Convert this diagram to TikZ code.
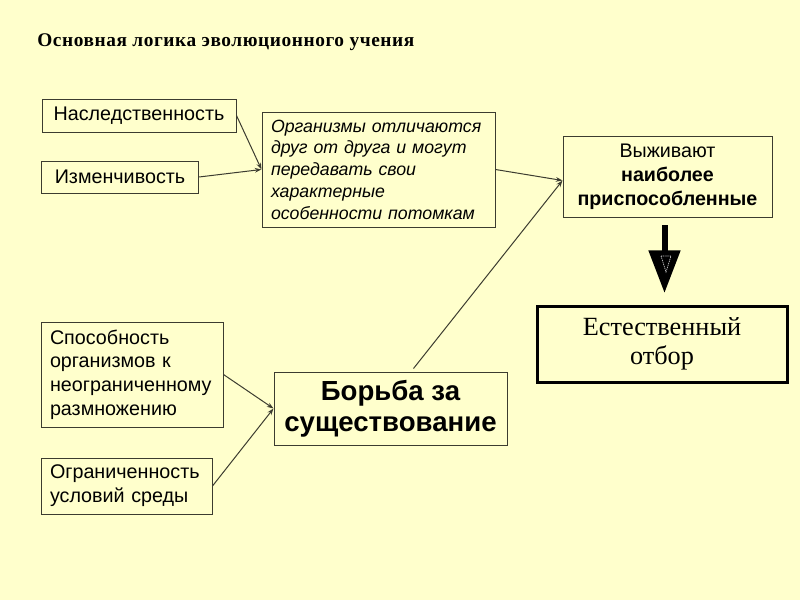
\documentclass[tikz,border=0pt]{standalone}
\usepackage{fontspec}
\setmainfont{Liberation Serif}
\setsansfont{Liberation Sans}
\usetikzlibrary{arrows.meta,calc}
\newdimen\pxu \pxu=0.75pt
\definecolor{bg}{HTML}{FFFFCC}
\definecolor{edge}{HTML}{3C3C30}
\begin{document}
\begin{tikzpicture}[x=0.75pt,y=-0.75pt,
  box/.style={draw=edge, line width=0.75pt, rectangle, inner sep=0pt},
  sans/.style={font=\sffamily\fontsize{14.8pt}{17.8pt}\selectfont},
  conn/.style={draw=edge, line width=0.75pt, -{Stealth[length=5pt,width=3.5pt]}},
]
\fill[bg] (0,0) rectangle (800,600);
\useasboundingbox (0,0) rectangle (800,600);

\node[anchor=base west, inner sep=0pt, font=\bfseries\fontsize{14.5pt}{17pt}\selectfont\addfontfeature{LetterSpace=3}] (title) at (37,46) {Основная логика эволюционного учения};

\node[box, sans, minimum width=194\pxu, minimum height=33\pxu] (n1) at (139,115.5) {Наследственность};
\node[box, sans, minimum width=157\pxu, minimum height=32\pxu] (n2) at (120,177) {Изменчивость};

\node[box, font=\sffamily\itshape\fontsize{13.3pt}{16.35pt}\selectfont, text width=215\pxu, inner xsep=9\pxu, align=left, minimum height=115\pxu] (org) at (378.5,169.5)
  {Организмы отличаются\\друг от друга и могут\\передавать свои\\характерные\\особенности потомкам};

\node[box, font=\sffamily\fontsize{14.75pt}{17.9pt}\selectfont, minimum width=209\pxu, minimum height=81\pxu, align=center] (surv) at (667.5,176.5)
  {Выживают\\\textbf{наиболее}\\\textbf{приспособленные}};

\node[draw=black, line width=2.25pt, inner sep=0pt, font=\rmfamily\fontsize{19.7pt}{21.75pt}\selectfont, minimum width=250\pxu, minimum height=76\pxu, align=center] (nat) at (662,344)
  {Естественный\\отбор};

\node[box, sans, text width=164\pxu, inner xsep=9\pxu, align=left, minimum height=105\pxu] (abil) at (132,374.5)
  {Способность\\организмов к\\неограниченному\\размножению};

\node[box, sans, text width=153\pxu, inner xsep=9\pxu, align=left, minimum height=56\pxu] (lim) at (126.5,486)
  {Ограниченность\\условий среды};

\node[box, font=\sffamily\bfseries\fontsize{20.7pt}{23.3pt}\selectfont, minimum width=233\pxu, minimum height=73\pxu, align=center] (strug) at (390.5,408.5)
  {Борьба за\\существование};

\draw[conn] (n1.east) -- (org.west);
\draw[conn] (n2.east) -- (org.west);
\draw[conn] (org.east) -- ([yshift=-3pt]surv.west);
\draw[conn] ([shift={(23,-3)}]strug.north) -- ([yshift=-3pt]surv.west);
\draw[conn] (abil.east) -- (strug.west);
\draw[conn] (lim.east) -- (strug.west);

\coordinate (ta) at (664.5,225);
\coordinate (tb) at (664.5,293);
\draw[black, line width=4.5pt, -{Triangle[length=32pt,width=23pt]}] (ta) -- (tb);
\draw[white!55!gray, line width=0.5pt, dash pattern=on 1pt off 0.6pt] (661,256) -- (671,256) -- (666,272) -- cycle;
\end{tikzpicture}
\end{document}
